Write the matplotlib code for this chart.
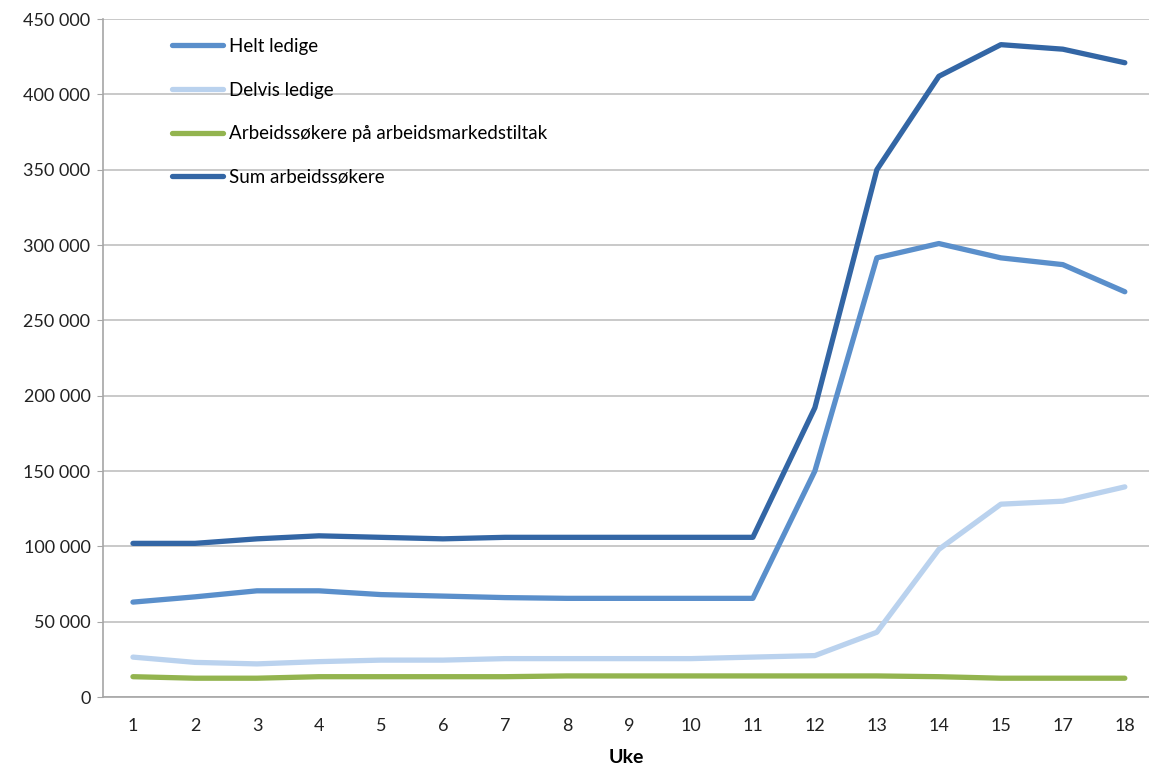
import matplotlib.pyplot as plt
from matplotlib.ticker import FuncFormatter

# --- Data ---
weeks = ["1", "2", "3", "4", "5", "6", "7", "8", "9", "10", "11", "12", "13", "14", "15", "17", "18"]

helt_ledige = [63000, 66500, 70500, 70500, 68000, 67000, 66000, 65500, 65500, 65500, 65500,
               150000, 291500, 301000, 291500, 287000, 269000]
delvis_ledige = [26500, 23000, 22000, 23500, 24500, 24500, 25500, 25500, 25500, 25500, 26500,
                 27500, 43000, 98000, 128000, 130000, 139500]
tiltak = [13500, 12500, 12500, 13500, 13500, 13500, 13500, 14000, 14000, 14000, 14000,
          14000, 14000, 13500, 12500, 12500, 12500]
sum_arbeidssokere = [102000, 102000, 105000, 107000, 106000, 105000, 106000, 106000, 106000, 106000, 106000,
                     192000, 350000, 412000, 433000, 430000, 421000]

series = {
    "Helt ledige": (helt_ledige, "#5A8FCB"),
    "Delvis ledige": (delvis_ledige, "#BAD2EE"),
    "Arbeidssøkere på arbeidsmarkedstiltak": (tiltak, "#93B44F"),
    "Sum arbeidssøkere": (sum_arbeidssokere, "#3366A5"),
}

plt.rcParams['font.family'] = ['Lato', 'DejaVu Sans']

fig = plt.figure(figsize=(11.49, 7.68), dpi=100)
ax = fig.add_axes([0.0896, 0.0924, 0.9104, 0.8828])

x = list(range(len(weeks)))
for name, (vals, col) in series.items():
    ax.plot(x, vals, color=col, lw=3.8, label=name, solid_capstyle='round', solid_joinstyle='round')

ax.set_xlim(-0.484, 16.39)
ax.set_ylim(0, 450000)
ax.set_yticks(range(0, 450001, 50000))
ax.yaxis.set_major_formatter(FuncFormatter(lambda v, p: f"{int(v):,}".replace(",", " ")))
ax.set_xticks(x)
ax.set_xticklabels(weeks)

ax.grid(axis='y', color='#C0C0C0', lw=1.2)
ax.set_axisbelow(True)
for s in ['top', 'right']:
    ax.spines[s].set_visible(False)
for s in ['left', 'bottom']:
    ax.spines[s].set_color('#A6A6A6')
    ax.spines[s].set_linewidth(1.2)

ax.tick_params(axis='y', length=4, colors='#A6A6A6', labelcolor='#222222', labelsize=13, pad=5)
ax.tick_params(axis='x', length=0, labelsize=13, colors='#222222', pad=15)
ax.set_xlabel("Uke", fontsize=14, fontweight='bold', labelpad=11)

ax.legend(loc='upper left', bbox_to_anchor=(0.05, 0.997), frameon=False, fontsize=13.5,
          handlelength=2.7, handletextpad=0.35, labelspacing=1.42)

fig.savefig("out.png", dpi=100)
